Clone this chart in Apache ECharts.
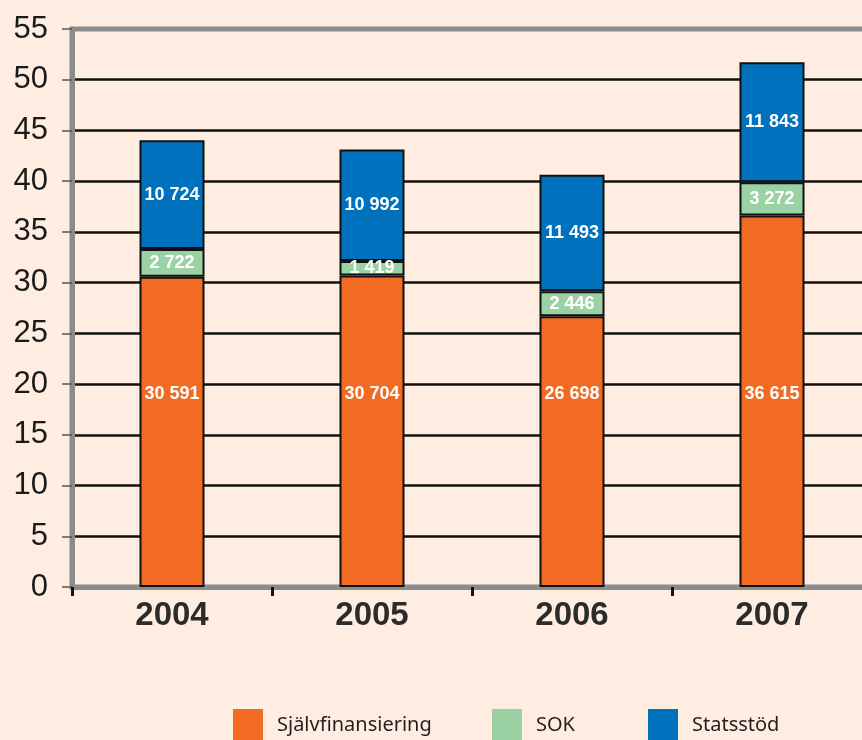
<!DOCTYPE html>
<html>
<head>
<meta charset="utf-8">
<script src="https://cdn.jsdelivr.net/npm/echarts@6/dist/echarts.min.js"></script>
<style>
html, body { margin: 0; padding: 0; background: #feede0; }
#chart { width: 862px; height: 740px; }
</style>
</head>
<body>
<div id="chart"></div>
<script>
// värden i tkr, axeln i miljoner
var years = ['2004', '2005', '2006', '2007']
var sjalvfinansiering = [30591, 30704, 26698, 36615]
var sok = [2722, 1419, 2446, 3272]
var statsstod = [10724, 10992, 11493, 11843]
var seriesNames = ['Självfinansiering', 'SOK', 'Statsstöd']
var colors = ['#f26b22', '#9bd2a4', '#0071bc']

function fmt (v) {
  return String(v).replace(/\B(?=(\d{3})+(?!\d))/g, ' ')
}

function makeSeries (name, raw, color, labelPos) {
  return {
    name: name,
    type: 'bar',
    stack: 'total',
    barWidth: 65,
    data: raw.map(function (v) { return v / 1000 }),
    itemStyle: { color: color, borderColor: '#111', borderWidth: 2 },
    label: Object.assign({
      show: true,
      position: 'inside',
      color: '#fff',
      fontFamily: 'Liberation Sans, Arial, sans-serif',
      fontWeight: 'bold',
      fontSize: 18,
      formatter: function (p) { return fmt(raw[p.dataIndex]) }
    }, labelPos || {})
  }
}

function makeLegend (i, left) {
  return {
    data: [seriesNames[i]],
    left: left,
    top: 709,
    padding: 0,
    itemWidth: 30,
    itemHeight: 32,
    icon: 'rect',
    itemStyle: { borderWidth: 0 },
    textStyle: {
      fontFamily: 'Noto Sans, sans-serif',
      fontSize: 20,
      color: '#231f20',
      padding: [0, 0, 0, 9]
    }
  }
}

var chart = echarts.init(document.getElementById('chart'))
var splitColors = []
for (var i = 0; i < 11; i++) splitColors.push('#111')
splitColors.push('transparent')

chart.setOption({
  backgroundColor: '#feede0',
  animation: false,
  color: colors,
  grid: {
    left: 72,
    top: 29,
    width: 800,
    bottom: 153,
    outerBoundsMode: 'none',
    show: true,
    borderColor: '#898b8d',
    borderWidth: 5,
    backgroundColor: 'transparent'
  },
  legend: [makeLegend(0, 233), makeLegend(1, 492), makeLegend(2, 648)],
  xAxis: {
    type: 'category',
    data: years,
    axisLine: { lineStyle: { color: '#898b8d', width: 5 } },
    axisTick: { show: true, length: 9, lineStyle: { color: '#111', width: 3 } },
    axisLabel: {
      margin: 12,
      fontFamily: 'Liberation Sans, Arial, sans-serif',
      fontWeight: 'bold',
      fontSize: 33,
      color: '#2b2b2b'
    }
  },
  yAxis: {
    type: 'value',
    min: 0,
    max: 55,
    interval: 5,
    axisLine: { show: true, lineStyle: { color: '#898b8d', width: 5 } },
    axisTick: { show: true, length: 10, lineStyle: { color: '#555', width: 1.5 } },
    splitLine: { lineStyle: { color: splitColors, width: 2.5 } },
    axisLabel: {
      margin: 24,
      fontFamily: 'Liberation Sans, Arial, sans-serif',
      fontSize: 31,
      color: '#1a1a1a'
    }
  },
  series: [
    makeSeries(seriesNames[0], sjalvfinansiering, colors[0], { position: 'insideBottom', distance: 184 }),
    makeSeries(seriesNames[1], sok, colors[1]),
    makeSeries(seriesNames[2], statsstod, colors[2])
  ]
})
</script>
</body>
</html>
